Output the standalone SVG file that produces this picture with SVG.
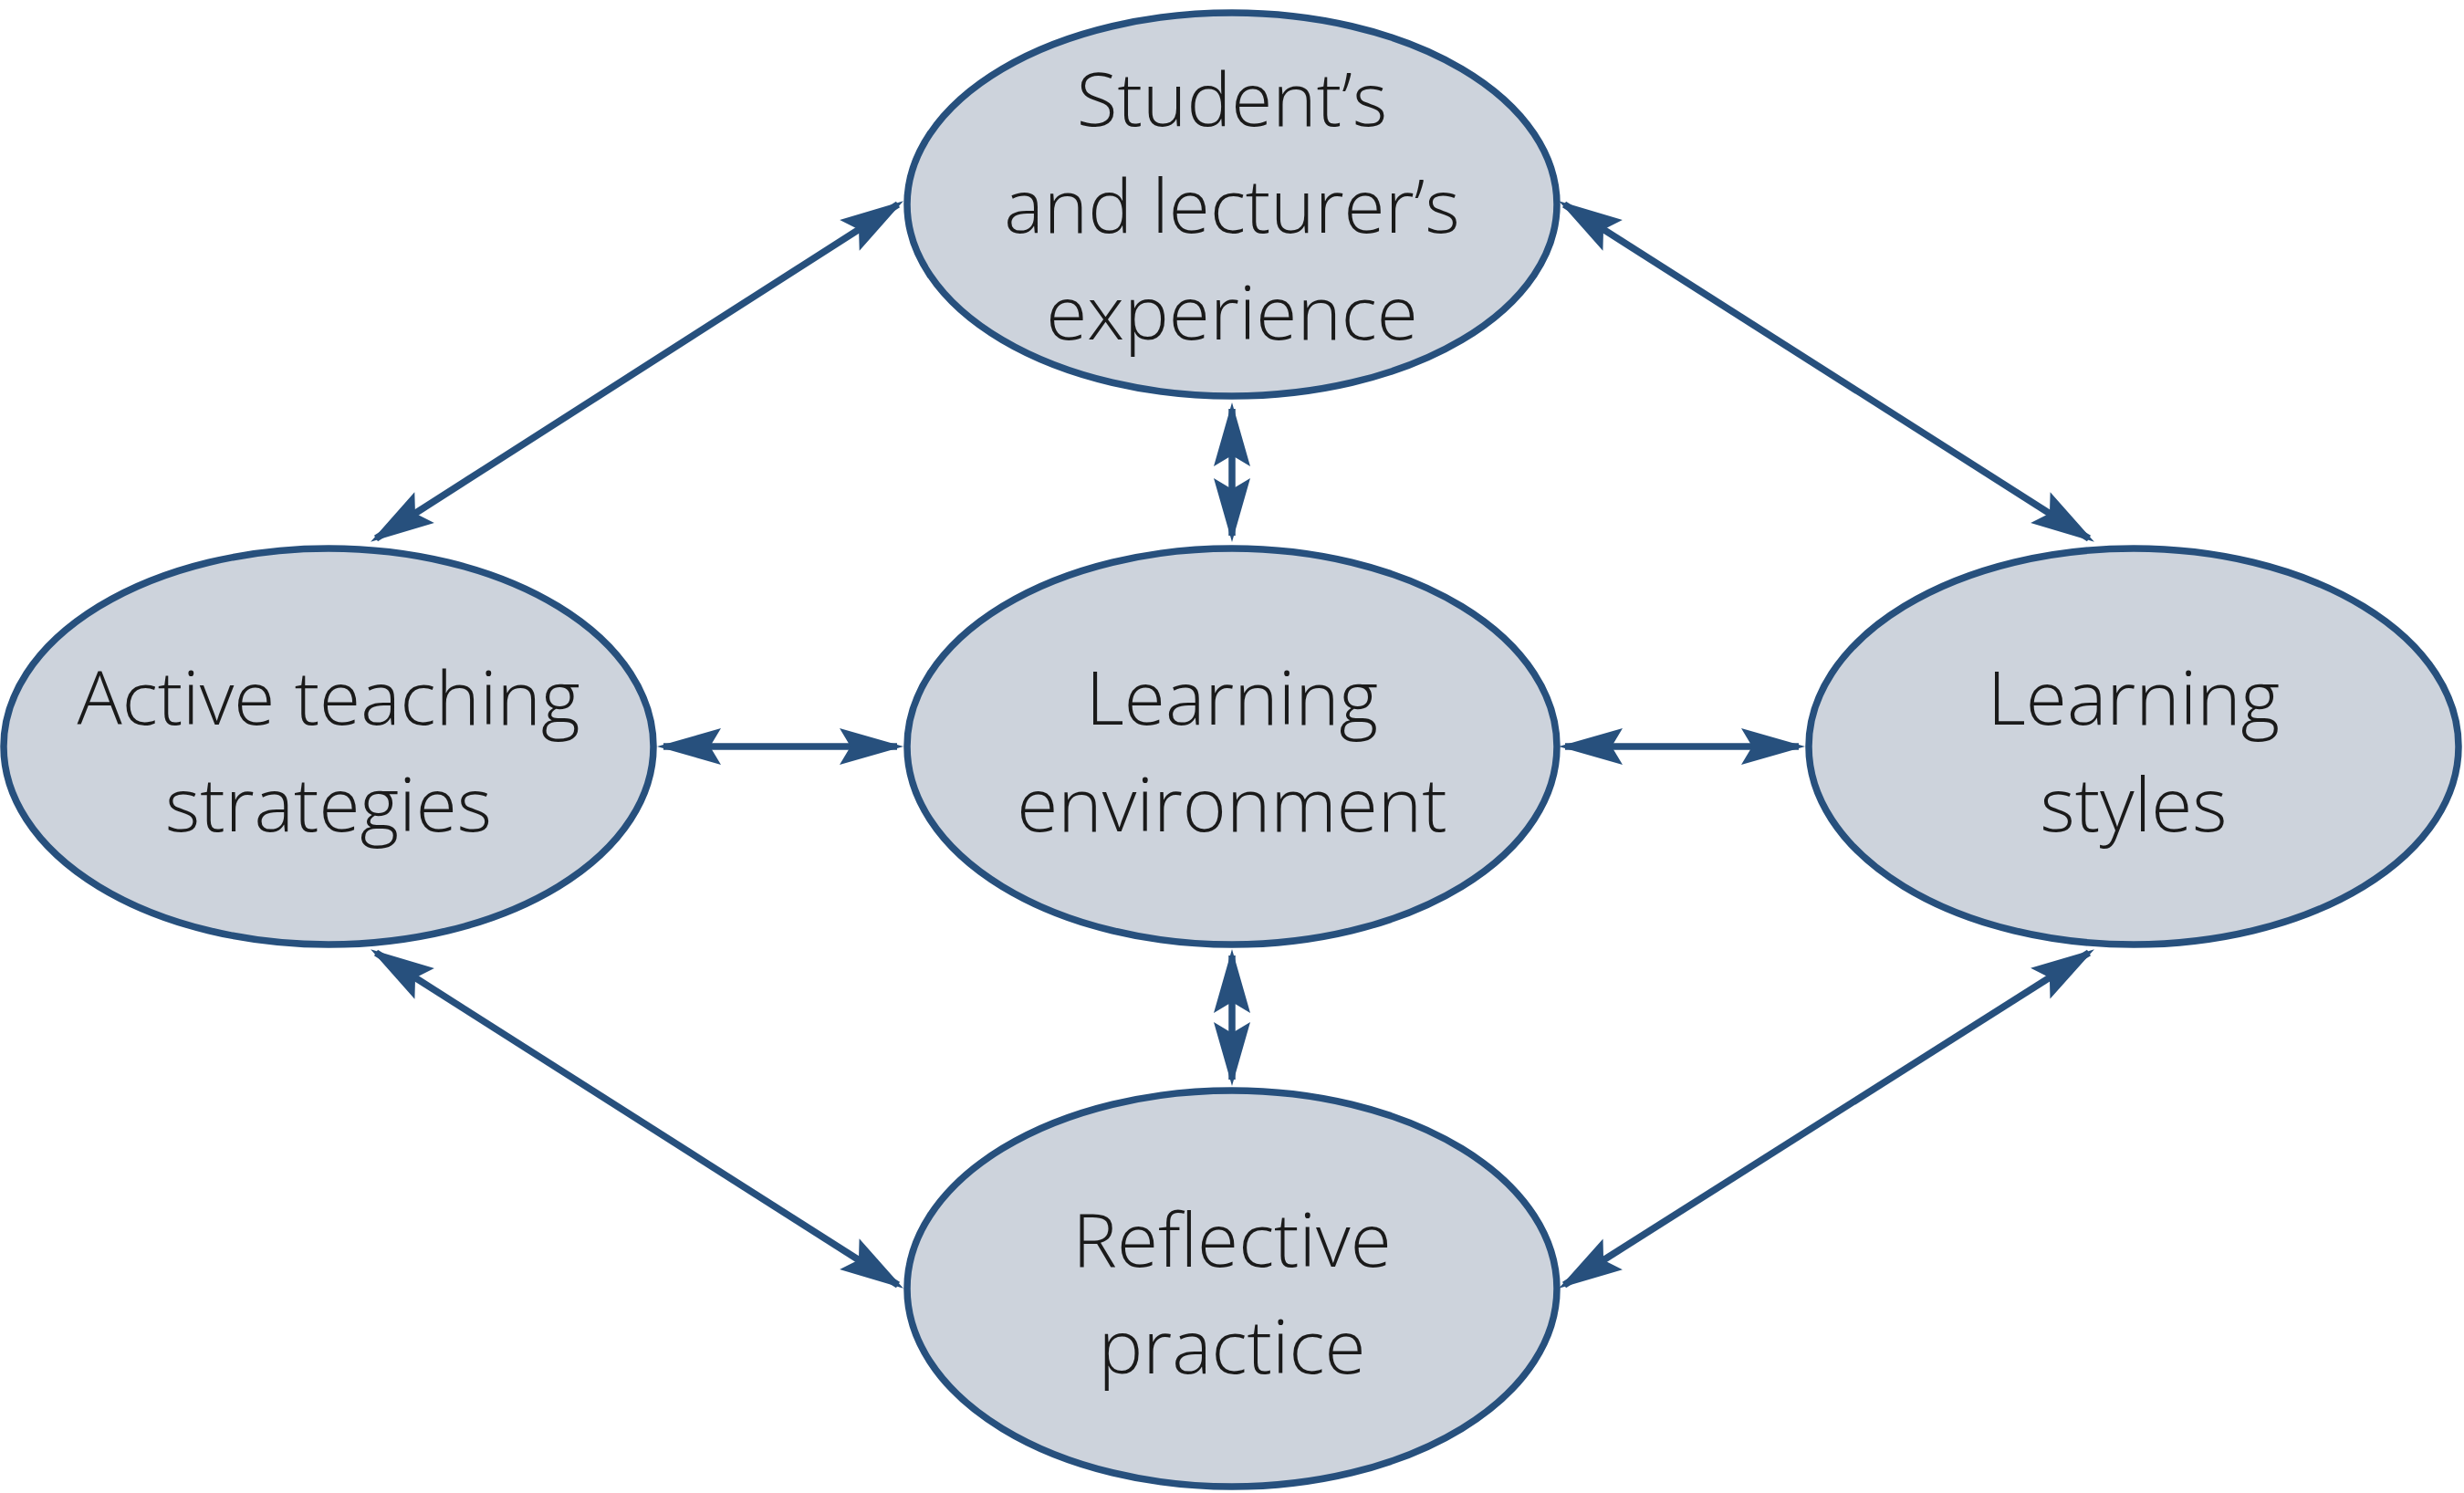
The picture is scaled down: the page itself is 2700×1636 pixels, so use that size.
<svg xmlns="http://www.w3.org/2000/svg" width="2700" height="1636" viewBox="0 0 2700 1636">
<style>
.n{fill:#cdd3dc;stroke:#27507d;stroke-width:7.5}
.t{font-family:"Open Sans","Liberation Sans",sans-serif;font-weight:300;font-size:82px;fill:#1a1a1a;text-anchor:middle}
.c line{stroke:#27507d;stroke-width:7.5;marker-start:url(#a);marker-end:url(#a)}
</style>
<defs>
<marker id="a" markerUnits="userSpaceOnUse" viewBox="-72 -22 74 44" markerWidth="74" markerHeight="44" refX="-7" refY="0" orient="auto-start-reverse">
<path d="M0,0 L-70,-20 L-58,0 L-70,20 Z" fill="#27507d"/>
</marker>
</defs>
<rect width="2700" height="1636" fill="#fff"/>
<g class="c" id="connectors">
<line x1="984" y1="224" x2="412" y2="590"/>
<line x1="1714" y1="224" x2="2289" y2="590"/>
<line x1="412" y1="1044" x2="984" y2="1408"/>
<line x1="2289" y1="1044" x2="1714" y2="1408"/>
<line x1="727" y1="818" x2="983" y2="818"/>
<line x1="1715" y1="818" x2="1971" y2="818"/>
<line x1="1350" y1="448" x2="1350" y2="587"/>
<line x1="1350" y1="1047" x2="1350" y2="1183"/>
</g>
<g id="top"><ellipse class="n" cx="1350" cy="224" rx="356" ry="210"/>
<text class="t" x="1350" y="138">Student’s</text><text class="t" x="1350" y="255">and lecturer’s</text><text class="t" x="1350" y="372">experience</text></g>
<g id="left"><ellipse class="n" cx="360" cy="818" rx="356" ry="217"/>
<text class="t" x="360" y="794">Active teaching</text><text class="t" x="360" y="911">strategies</text></g>
<g id="center"><ellipse class="n" cx="1350" cy="818" rx="356" ry="217"/>
<text class="t" x="1350" y="794">Learning</text><text class="t" x="1350" y="911">environment</text></g>
<g id="right"><ellipse class="n" cx="2338" cy="818" rx="356" ry="217"/>
<text class="t" x="2338" y="794">Learning</text><text class="t" x="2338" y="911">styles</text></g>
<g id="bottom"><ellipse class="n" cx="1350" cy="1412" rx="356" ry="217"/>
<text class="t" x="1350" y="1388">Reflective</text><text class="t" x="1350" y="1505">practice</text></g>
</svg>
